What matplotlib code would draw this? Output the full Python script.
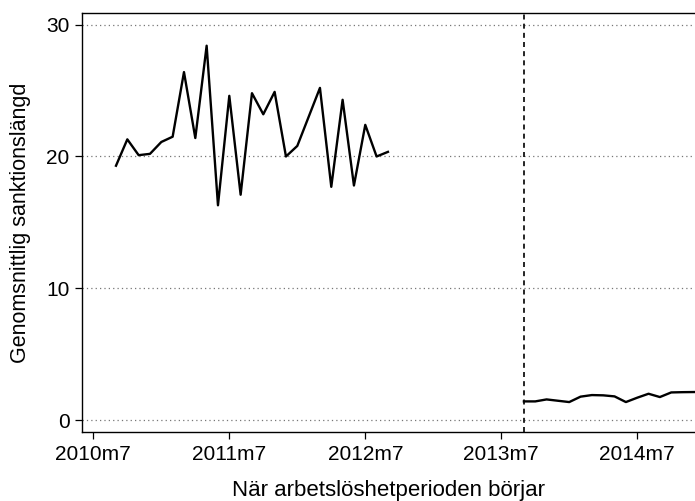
import matplotlib
matplotlib.use("Agg")
import matplotlib.pyplot as plt

plt.rcParams['font.family'] = ['Liberation Sans', 'DejaVu Sans']

# Data (month index: 0 = 2010m7)
start_label = (2010, 7)
series1_start = "2010m9"
series1_values = [19.3, 21.3, 20.1, 20.2, 21.1, 21.5, 26.4, 21.4, 28.4, 16.3,
                  24.6, 17.1, 24.8, 23.2, 24.9, 20.0, 20.8, 23.0, 25.2, 17.7,
                  24.3, 17.8, 22.4, 20.0, 20.35]
series2_start = "2013m9"
series2_values = [1.43, 1.43, 1.58, 1.48, 1.38, 1.79, 1.91, 1.89, 1.81, 1.38,
                  1.71, 2.01, 1.76, 2.11, 2.13, 2.14]
reform_month = "2013m9"
xtick_labels = ["2010m7", "2011m7", "2012m7", "2013m7", "2014m7"]
yticks = [0, 10, 20, 30]


def midx(s):
    y, m = s.split("m")
    return (int(y) - start_label[0]) * 12 + (int(m) - start_label[1])


x1 = [midx(series1_start) + i for i in range(len(series1_values))]
x2 = [midx(series2_start) + i for i in range(len(series2_values))]

fig = plt.figure(figsize=(6.95, 5.01), dpi=100)
ax = fig.add_axes([82 / 695, 1 - 432 / 501, 1 - 82 / 695, (432 - 13) / 501])

for yv in yticks:
    ax.axhline(yv, color="#777777", lw=0.9, ls=(0, (1, 2.5)), zorder=0)

ax.plot(x1, series1_values, color="black", lw=1.7)
ax.plot(x2, series2_values, color="black", lw=1.7)
ax.axvline(midx(reform_month), color="black", lw=1.2, ls=(0, (3, 2.5)))

ax.set_xlim(-1.0, 53.1)
ax.set_ylim(-0.89, 30.88)
ax.set_xticks([midx(s) for s in xtick_labels])
ax.set_xticklabels(xtick_labels)
ax.set_yticks(yticks)
ax.tick_params(axis="both", direction="out", length=5, width=0.9, labelsize=15, pad=4)

ax.spines["right"].set_visible(False)
for s in ["left", "bottom", "top"]:
    ax.spines[s].set_linewidth(1.0)

ax.set_xlabel("När arbetslöshetperioden börjar", fontsize=16, labelpad=12)
ax.set_ylabel("Genomsnittlig sanktionslängd", fontsize=15.5, labelpad=11)

fig.savefig("out.png", dpi=100)
